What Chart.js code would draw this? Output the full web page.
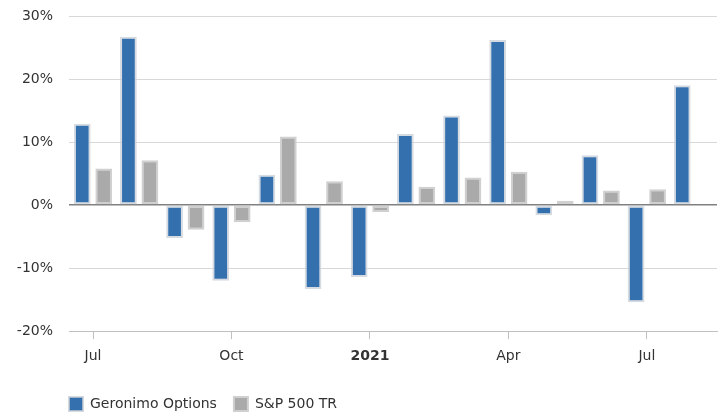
<!DOCTYPE html>
<html>
<head>
<meta charset="utf-8">
<script src="https://cdn.jsdelivr.net/npm/chart.js@4.4.1/dist/chart.umd.min.js"></script>
<style>
  html, body { margin: 0; padding: 0; background: #fff; }
  #wrap { width: 724px; height: 413px; position: relative; }
</style>
</head>
<body>
<div id="wrap"><canvas id="bar-chart"></canvas></div>
<script>
// meses (jul/2020 a ago/2021)
const months = ['2020-07', '2020-08', '2020-09', '2020-10', '2020-11', '2020-12', '2021-01',
                '2021-02', '2021-03', '2021-04', '2021-05', '2021-06', '2021-07', '2021-08'];
// retornos mensais em %
const geronimo = [12.9, 26.7, -5.2, -12.0, 4.8, -13.3, -11.4, 11.3, 14.2, 26.2, -1.6, 7.9, -15.4, 19.0];
const sp500 = [5.8, 7.1, -3.9, -2.7, 10.9, 3.8, -1.1, 2.9, 4.4, 5.3, 0.7, 2.3, 2.5, null];
// rótulos do eixo x
const tickIndex = [0, 3, 6, 9, 12];
const tickLabels = ['Jul', 'Oct', '2021', 'Apr', 'Jul'];
const yTicks = [-20, -10, 0, 10, 20, 30];

const toPoints = arr => arr.map((v, i) => ({ x: i, y: v })).filter(p => p.y !== null);

// move a legenda para alinhar com a área do gráfico
const legendShift = {
  id: 'legendShift',
  afterLayout(chart) {
    chart.legend.left = 52;
    chart.legend.top = 380;
  }
};

Chart.defaults.font.family = '"DejaVu Sans", Verdana, sans-serif';
Chart.defaults.font.size = 14;
Chart.defaults.color = '#333';

new Chart(document.getElementById('bar-chart'), {
  type: 'bar',
  data: {
    datasets: [{
      label: 'Geronimo Options',
      data: toPoints(geronimo),
      backgroundColor: '#3470ad',
      borderColor: 'rgba(200,205,215,0.75)',
      borderWidth: 2,
      borderSkipped: false
    }, {
      label: 'S&P 500 TR',
      data: toPoints(sp500),
      backgroundColor: '#aaaaaa',
      borderColor: '#d0d0d0',
      borderWidth: 2,
      borderSkipped: false
    }]
  },
  plugins: [legendShift],
  options: {
    responsive: true,
    maintainAspectRatio: false,
    animation: false,
    categoryPercentage: 0.93,
    barPercentage: 0.78,
    layout: { padding: { top: 16, right: 7, left: 0, bottom: 0 } },
    plugins: {
      tooltip: { enabled: false },
      title: { display: false },
      legend: {
        position: 'bottom',
        align: 'start',
        labels: {
          boxWidth: 14,
          boxHeight: 14,
          padding: 17,
          color: '#333',
          font: { size: 14 }
        }
      }
    },
    scales: {
      x: {
        type: 'linear',
        offset: false,
        min: -0.52,
        max: 13.52,
        afterBuildTicks: s => { s.ticks = tickIndex.map(v => ({ value: v })); },
        afterFit: s => { s.height -= 2; },
        ticks: {
          padding: 9,
          color: '#333',
          callback: v => tickLabels[tickIndex.indexOf(v)],
          font: ctx => ({ size: 14, weight: ctx.tick && ctx.tick.value === tickIndex[2] ? 'bold' : 'normal' })
        },
        grid: {
          offset: false,
          drawOnChartArea: false,
          drawTicks: true,
          tickLength: 8,
          tickColor: '#c0c0c0'
        },
        border: { color: '#c0c0c0' }
      },
      y: {
        min: -20,
        max: 30,
        afterBuildTicks: s => { s.ticks = yTicks.map(v => ({ value: v })); },
        afterFit: s => { s.width = 69; s.paddingTop = 0; s.paddingBottom = 0; },
        ticks: {
          padding: 16,
          color: '#333',
          callback: v => v + '%'
        },
        grid: {
          drawTicks: false,
          color: ctx => ctx.tick && ctx.tick.value === 0 ? '#808080' : '#d8d8d8',
          lineWidth: ctx => ctx.tick && ctx.tick.value === 0 ? 1.5 : 1
        },
        border: { display: false }
      }
    }
  }
});
</script>
</body>
</html>
